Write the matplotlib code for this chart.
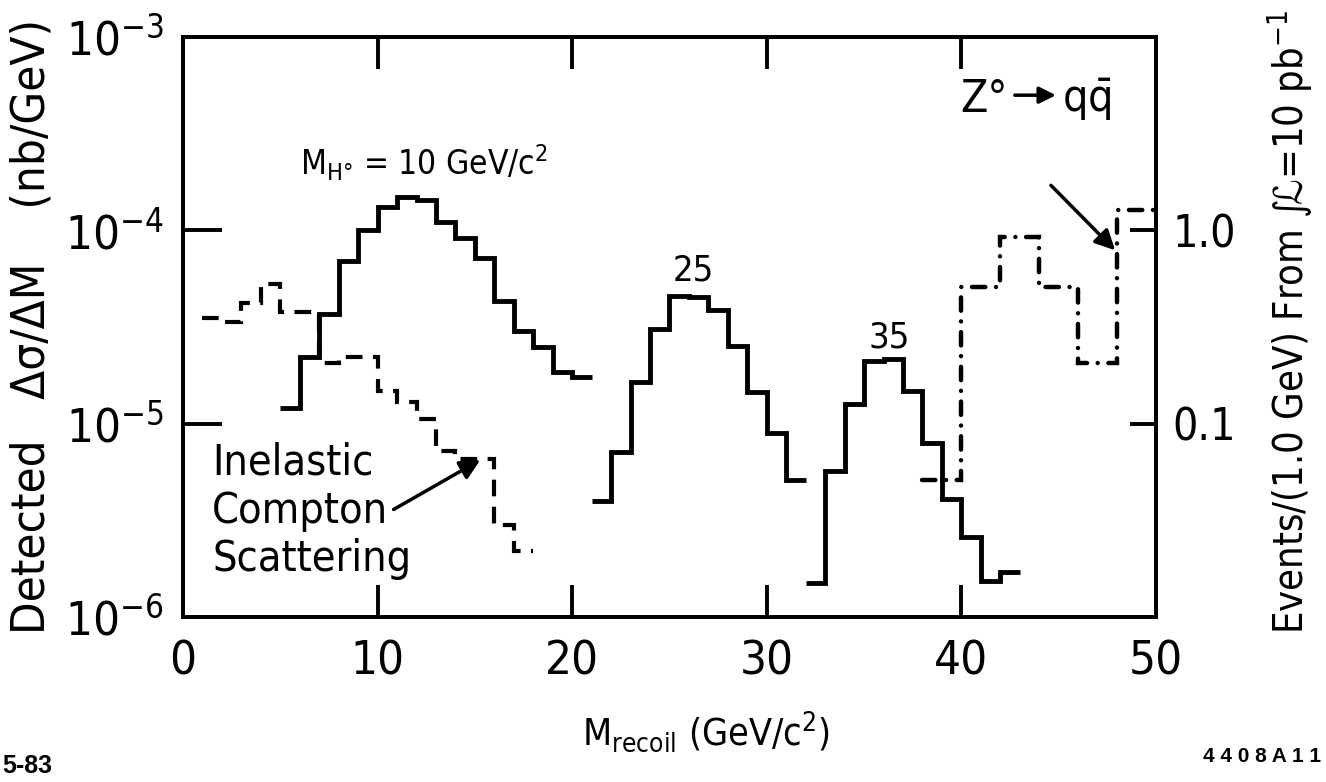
import matplotlib.pyplot as plt
from matplotlib.ticker import NullLocator

plt.rcParams['font.family'] = ['DejaVu Sans']
plt.rcParams['font.stretch'] = 'condensed'
plt.rcParams['mathtext.fontset'] = 'custom'
plt.rcParams['mathtext.rm'] = 'DejaVu Sans:stretch=condensed'
plt.rcParams['mathtext.it'] = 'DejaVu Sans:italic:stretch=condensed'
plt.rcParams['mathtext.sf'] = 'DejaVu Sans:stretch=condensed'
plt.rcParams['mathtext.fallback'] = 'stix'

# recoil mass bins (GeV/c^2) and detected d(sigma)/dM (nb/GeV)
higgs10_edges = list(range(5, 22))
higgs10_xsec = [1.2e-5, 2.2e-5, 3.7e-5, 6.9e-5, 1.0e-4, 1.32e-4, 1.49e-4, 1.43e-4,
                1.10e-4, 9.1e-5, 7.2e-5, 4.3e-5, 3.0e-5, 2.5e-5, 1.85e-5, 1.75e-5]

higgs25_edges = list(range(21, 33))
higgs25_xsec = [4.0e-6, 7.1e-6, 1.64e-5, 3.1e-5, 4.6e-5, 4.5e-5, 3.85e-5, 2.53e-5,
                1.45e-5, 8.9e-6, 5.1e-6]

higgs35_edges = list(range(32, 44))
higgs35_xsec = [1.5e-6, 5.7e-6, 1.27e-5, 2.1e-5, 2.15e-5, 1.48e-5, 7.9e-6, 4.1e-6,
                2.6e-6, 1.54e-6, 1.7e-6]

compton_edges = list(range(1, 19))
compton_xsec = [3.5e-5, 3.35e-5, 4.2e-5, 5.3e-5, 3.8e-5, 3.8e-5, 2.05e-5, 2.2e-5,
                2.2e-5, 1.48e-5, 1.29e-5, 1.06e-5, 7.2e-6, 6.6e-6, 6.6e-6, 3.0e-6, 2.2e-6]

zqq_edges = [38, 40, 42, 44, 46, 48, 50]
zqq_xsec = [5.1e-6, 5.1e-5, 9.2e-5, 5.1e-5, 2.05e-5, 1.27e-4]

# events per GeV for 10 pb^-1 = xsec * 1e4
lumi_scale = 1.0e4

fig = plt.figure(figsize=(13.26, 7.82), dpi=100)
ax = fig.add_axes([0.138, 0.211, 0.7338, 0.7417])

ax.stairs(higgs10_xsec, higgs10_edges, baseline=None, color='k', lw=3.5)
ax.stairs(higgs25_xsec, higgs25_edges, baseline=None, color='k', lw=3.5)
ax.stairs(higgs35_xsec, higgs35_edges, baseline=None, color='k', lw=3.5)
ax.stairs(compton_xsec, compton_edges, baseline=None, color='k', lw=3.0,
          linestyle=(0, (4, 2.5)))
zp = ax.stairs(zqq_xsec, zqq_edges, baseline=None, color='k', lw=3.2,
               linestyle=(0, (3.0, 2.4, 0.01, 2.4)))
zp.set_capstyle('round')

ax.set_xlim(0, 50)
ax.set_yscale('log')
ax.set_ylim(1e-6, 1e-3)
ax.set_xticks([0, 10, 20, 30, 40, 50], ['0', '10', '20', '30', '40', '50'])
ax.set_yticks([1e-6, 1e-5, 1e-4, 1e-3],
              [r'$10^{-6}$', r'$10^{-5}$', r'$10^{-4}$', r'$10^{-3}$'])
ax.yaxis.set_minor_locator(NullLocator())
ax.tick_params(axis='x', direction='in', length=23, width=2.8, top=True,
               pad=16, labelsize=34)
ax.tick_params(axis='y', direction='in', length=28, width=2.8, right=False,
               pad=14, labelsize=34)
for s in ax.spines.values():
    s.set_linewidth(2.8)

ax2 = ax.twinx()
ax2.set_yscale('log')
ax2.set_ylim(1e-6 * lumi_scale, 1e-3 * lumi_scale)
ax2.set_yticks([0.1, 1.0], ['0.1', '1.0'])
ax2.yaxis.set_minor_locator(NullLocator())
ax2.tick_params(axis='y', direction='in', length=19, width=2.8, pad=12,
                labelsize=32)
for s in ax2.spines.values():
    s.set_linewidth(2.8)

# annotations
ax.text(6.0, 1.93e-4, r'M$_{\mathrm{H°}}$ = 10 GeV/c$^2$', fontsize=24,
        va='baseline')
ax.text(26.2, 5.5e-5, '25', fontsize=26, ha='center', va='baseline')
ax.text(36.3, 2.48e-5, '35', fontsize=26, ha='center', va='baseline')

ax.text(42.4, 4.08e-4, 'Z°', fontsize=32, ha='right', va='baseline')
ax.annotate('', xy=(45.0, 5.0e-4), xytext=(42.6, 5.0e-4),
            arrowprops=dict(arrowstyle='-|>', color='k', lw=2.5,
                            mutation_scale=25))
ax.text(45.15, 4.08e-4, r'q$\bar{\mathrm{q}}$', fontsize=32, va='baseline')
ax.annotate('', xy=(48.0, 7.7e-5), xytext=(44.5, 1.75e-4),
            arrowprops=dict(arrowstyle='-|>', color='k', lw=2.5,
                            mutation_scale=30))

ax.text(1.5, 3.55e-6, 'Inelastic\nCompton\nScattering', fontsize=31,
        ha='left', va='center', linespacing=1.19)
ax.annotate('', xy=(15.4, compton_xsec[14]), xytext=(10.7, 3.54e-6),
            arrowprops=dict(arrowstyle='-|>', color='k', lw=2.5,
                            mutation_scale=30))

fig.text(0.024, 0.582, 'Detected   Δσ/ΔM    (nb/GeV)', rotation=90,
         fontsize=34, ha='center', va='center')
fig.text(0.973, 0.588, r'Events/(1.0 GeV) From $\int\!$ℒ=10 pb$^{-1}$',
         rotation=90, fontsize=28.5, ha='center', va='center')
fig.text(0.532, 0.065, r'M$_{\mathrm{recoil}}$ (GeV/c$^2$)', fontsize=27,
         ha='center', va='center')
fig.text(0.002, 0.012, '5-83', fontsize=18, family='Liberation Sans',
         stretch='normal', weight='bold')
fig.text(0.996, 0.025, '4 4 0 8 A 1 1', fontsize=15, family='Liberation Sans',
         stretch='normal', weight='bold', ha='right')

fig.savefig('out.png', dpi=100)
